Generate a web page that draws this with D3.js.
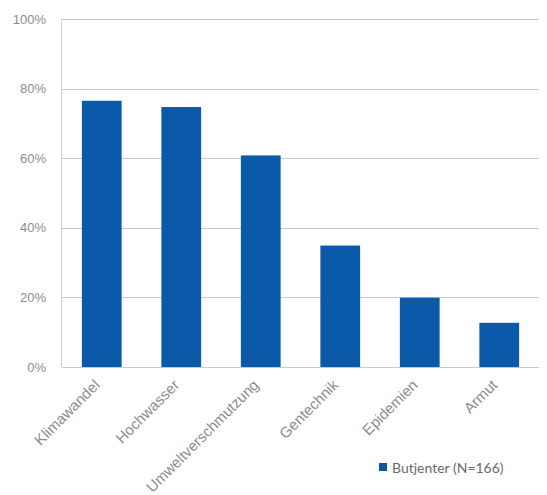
<!DOCTYPE html>
<html>
<head>
<meta charset="utf-8">
<script src="https://cdn.jsdelivr.net/npm/d3@7"></script>
<style>
  html, body { margin: 0; padding: 0; background: #fff; }
  svg { display: block; font-family: Lato, "Open Sans", sans-serif; }
</style>
</head>
<body>
<svg id="chart" width="547" height="495"></svg>
<script>
// Share of respondents per topic
const categories = ["Klimawandel", "Hochwasser", "Umweltverschmutzung", "Gentechnik", "Epidemien", "Armut"];
const values = [76.5, 74.7, 60.8, 34.9, 19.9, 12.7];
const yTicks = [0, 20, 40, 60, 80, 100];
const seriesName = "Butjenter (N=166)";

const svg = d3.select("#chart");
const margin = { left: 62, right: 8, top: 19, bottom: 128 };
const W = 547, H = 495;

const x = d3.scaleBand()
  .domain(categories)
  .range([margin.left, W - margin.right])
  .paddingInner(0.5)
  .paddingOuter(0.25);

const y = d3.scaleLinear()
  .domain([0, 100])
  .range([H - margin.bottom, margin.top]);

// horizontal gridlines
svg.append("g")
  .selectAll("line")
  .data(yTicks)
  .join("line")
  .attr("x1", margin.left)
  .attr("x2", W - margin.right)
  .attr("y1", d => Math.round(y(d)) + 0.5)
  .attr("y2", d => Math.round(y(d)) + 0.5)
  .attr("stroke", "#c9c9c9")
  .attr("stroke-width", 1);

// left axis line
svg.append("line")
  .attr("x1", margin.left - 0.5).attr("x2", margin.left - 0.5)
  .attr("y1", y(100)).attr("y2", y(0))
  .attr("stroke", "#d0d0d0");

// y axis labels
const yAxis = d3.axisLeft(y).tickValues(yTicks).tickFormat(d => d + "%").tickSize(0).tickPadding(16);
const gy = svg.append("g").attr("transform", `translate(${margin.left},0)`).call(yAxis);
gy.select(".domain").remove();
gy.selectAll("text").attr("fill", "#8c8c8c").style("font-size", "13px");

// bars
svg.append("g")
  .selectAll("rect")
  .data(values)
  .join("rect")
  .attr("x", (d, i) => x(categories[i]))
  .attr("width", x.bandwidth())
  .attr("y", d => y(d))
  .attr("height", d => y(0) - y(d))
  .attr("fill", "#0b59a9");

// x axis labels, rotated
const xAxis = d3.axisBottom(x).tickSize(0).tickPadding(0);
const gx = svg.append("g").attr("transform", `translate(0,${y(0)})`).call(xAxis);
gx.select(".domain").remove();
gx.selectAll("text")
  .attr("fill", "#8c8c8c")
  .style("font-size", "15px")
  .attr("text-anchor", "end")
  .attr("dy", null)
  .attr("y", 0)
  .attr("transform", "translate(-1,19) rotate(-45)");

// legend
const lg = svg.append("g").attr("transform", "translate(379,463)");
lg.append("rect").attr("width", 8).attr("height", 8).attr("fill", "#0b59a9");
lg.append("text").attr("x", 13).attr("y", 9.5)
  .attr("fill", "#6a6a6a").style("font-size", "14px").text(seriesName);
</script>
</body>
</html>
